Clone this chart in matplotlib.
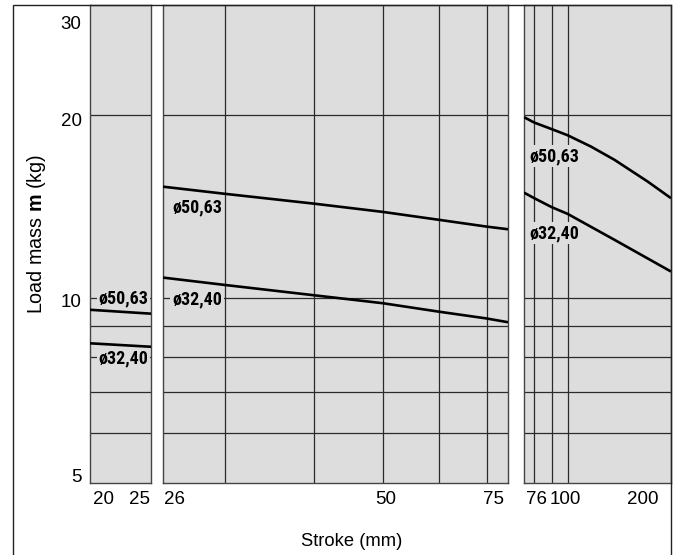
import matplotlib
matplotlib.use('Agg')
import matplotlib.pyplot as plt
from matplotlib import transforms, font_manager
from matplotlib.patches import Rectangle
from matplotlib.ticker import NullLocator, NullFormatter

plt.rcParams['font.family'] = ['Liberation Sans', 'DejaVu Sans']
plt.rcParams['mathtext.fontset'] = 'custom'
plt.rcParams['mathtext.rm'] = 'Liberation Sans'
plt.rcParams['mathtext.bf'] = 'Liberation Sans:bold'

# ---- data ----
# panel 1 (stroke 20..25)
stroke_1 = [20, 25]
m50_1 = [9.56, 9.42]
m32_1 = [8.42, 8.31]

# panel 2 (stroke 26..75)
stroke_2 = [24.5, 30, 40, 50, 60, 70, 75]
m50_2 = [15.24, 14.83, 14.29, 13.85, 13.44, 13.10, 12.97]
m32_2 = [10.80, 10.50, 10.10, 9.80, 9.49, 9.25, 9.12]

# panel 3 (stroke 76..200)
stroke_3_50 = [74.7, 80, 90, 100, 117, 137, 171, 200]
m50_3 = [19.83, 19.43, 18.95, 18.52, 17.74, 16.87, 15.54, 14.59]
stroke_3_32 = [74.7, 80, 90, 100, 137, 200]
m32_3 = [14.90, 14.59, 14.10, 13.75, 12.46, 11.05]

y_ticks = [5, 10, 20, 30]
y_grid = [6, 7, 8, 9, 10, 20]
label_50 = 'ø50,63'
label_32 = 'ø32,40'

W, H = 678, 555
fig = plt.figure(figsize=(W / 100, H / 100), dpi=100)

face = '#dddddd'
gridc = '#2a2a2a'
ylim = (4.96, 30.33)


# pick an upright narrow bold face for the bore labels if one is installed
def is_narrow(f):
    st = str(f.stretch)
    return (st in ('condensed', 'semi-condensed', 'extra-condensed')
            or (st.isdigit() and int(st) < 500)
            or 'Narrow' in f.name or 'Condensed' in f.name)


narrow = None
for want in ['Liberation Sans Narrow', 'Roboto Condensed', 'Noto Sans', 'Open Sans', 'DejaVu Sans']:
    for f in font_manager.fontManager.ttflist:
        if (f.name.startswith(want) and f.style == 'normal' and f.weight in (700, 'bold')
                and is_narrow(f)):
            narrow = f
            break
    if narrow is not None:
        break

if narrow is not None:
    lab_font = dict(fontproperties=font_manager.FontProperties(fname=narrow.fname, size=13))
else:
    lab_font = dict(fontsize=11, fontweight='bold')


def px_box(x0, x1, top=5, bottom=483):
    return [x0 / W, 1 - bottom / H, (x1 - x0) / W, (bottom - top) / H]


def offset(label, dx=0, dy=0):
    label.set_transform(label.get_transform() +
                        transforms.ScaledTranslation(dx / 100, -dy / 100, fig.dpi_scale_trans))


def make_panel(box, xlim, xscale, vgrid, xticks, xoffs):
    ax = fig.add_axes(box)
    ax.set_facecolor(face)
    ax.set_xscale(xscale)
    ax.set_yscale('log')
    ax.set_xlim(*xlim)
    ax.set_ylim(*ylim)
    for y in y_grid:
        ax.axhline(y, color=gridc, lw=0.9, zorder=1)
    for x in vgrid:
        ax.axvline(x, color=gridc, lw=0.9, zorder=1)
    ax.xaxis.set_minor_locator(NullLocator())
    ax.xaxis.set_minor_formatter(NullFormatter())
    ax.yaxis.set_minor_locator(NullLocator())
    ax.yaxis.set_minor_formatter(NullFormatter())
    ax.set_xticks(xticks, [str(t) for t in xticks])
    ax.tick_params(axis='x', length=0, pad=5.5, labelsize=13.5)
    ax.set_yticks([])
    for lab, dx in zip(ax.get_xticklabels(), xoffs):
        offset(lab, dx=dx)
    for s in ax.spines.values():
        s.set_color('#444444')
        s.set_linewidth(1.0)
    return ax


ax1 = make_panel(px_box(90, 151), (20, 25), 'linear', [], [20, 25], [13, -11])
ax2 = make_panel(px_box(163, 508), (24.5, 75), 'log', [30, 40, 50, 60, 70], [26, 50, 75], [-7, 3, -15])
ax3 = make_panel(px_box(524, 671), (74.7, 200), 'log', [80, 90, 100], [76, 100, 200], [10, -2, -28])

# y ticks only on the first panel
ax1.set_yticks(y_ticks, [str(t) for t in y_ticks])
ax1.tick_params(axis='y', length=0, pad=6, labelsize=13.5)
for lab, dy in zip(ax1.get_yticklabels(), [-5, 3, 5, 15]):
    offset(lab, dy=dy)

lw = 1.9
for ax, xs, ys in [(ax1, stroke_1, m50_1), (ax1, stroke_1, m32_1),
                   (ax2, stroke_2, m50_2), (ax2, stroke_2, m32_2),
                   (ax3, stroke_3_50, m50_3), (ax3, stroke_3_32, m32_3)]:
    ax.plot(xs, ys, color='black', lw=lw, zorder=3, solid_capstyle='butt')

# labels sit above the grid but below the curves
lab_kw = dict(ha='center', va='center', zorder=2,
              bbox=dict(boxstyle='square,pad=0.1', fc=face, ec='none'), **lab_font)


def place(ax, xpx, ypx, text):
    ax.text(xpx / W, 1 - ypx / H, text, transform=fig.transFigure, **lab_kw)


place(ax1, 123.5, 298.3, label_50)
place(ax1, 123.5, 358.3, label_32)
place(ax2, 197, 207.3, label_50)
place(ax2, 197, 299, label_32)
place(ax3, 554, 156, label_50)
place(ax3, 554, 233.3, label_32)

fig.text(37 / W, 1 - 234 / H, r'Load mass $\mathbf{m}$ (kg)', rotation=90,
         ha='center', va='center', fontsize=14.2)
fig.text(352 / W, 1 - 541 / H, 'Stroke (mm)', ha='center', va='center', fontsize=13.2)

# outer frame (bottom edge is cut off)
fig.add_artist(Rectangle((13 / W, -0.1), (671 - 13) / W, 0.1 + 1 - 5 / H,
                         transform=fig.transFigure, fill=False, ec='#222222', lw=1.0))

fig.savefig('out.png', dpi=100)
